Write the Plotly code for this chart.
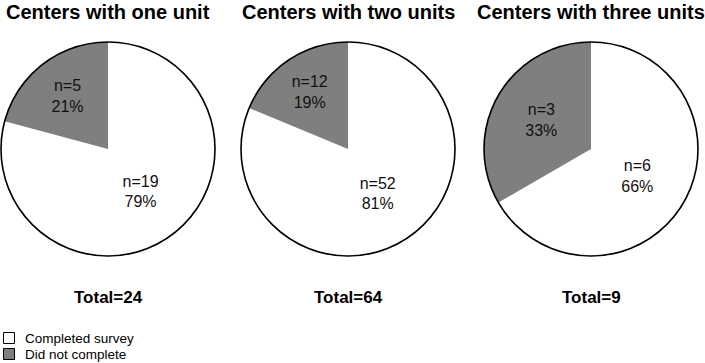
import plotly.graph_objects as go

titles = ["Centers with one unit", "Centers with two units", "Centers with three units"]
completed = [19, 52, 6]
not_completed = [5, 12, 3]
completed_pct = ["79%", "81%", "66%"]
not_completed_pct = ["21%", "19%", "33%"]
totals = [24, 64, 9]
labels = ["Completed survey", "Did not complete"]
colors = ["#ffffff", "#7f7f7f"]

W, H = 705, 363
centers_px = [108, 348, 591]
cy_px = 149
r_px = 107
FONT = "Liberation Sans, Arial, sans-serif"

fig = go.Figure()
for i in range(3):
    cx = centers_px[i]
    xd = [(cx - r_px) / W, (cx + r_px) / W]
    yd = [(H - cy_px - r_px) / H, (H - cy_px + r_px) / H]
    fig.add_trace(go.Pie(
        labels=labels,
        values=[completed[i], not_completed[i]],
        text=[f"n={completed[i]}<br>{completed_pct[i]}", f"n={not_completed[i]}<br>{not_completed_pct[i]}"],
        textinfo="text",
        textposition="inside",
        insidetextorientation="horizontal",
        textfont=dict(family=FONT, size=16, color="#111111"),
        marker=dict(colors=colors, line=dict(width=0)),
        sort=False,
        direction="clockwise",
        rotation=0,
        domain=dict(x=xd, y=yd),
        showlegend=False,
        hoverinfo="label+value",
    ))
    fig.add_trace(go.Pie(
        values=[1],
        labels=[" "],
        textinfo="none",
        marker=dict(colors=["rgba(0,0,0,0)"], line=dict(color="#000000", width=1.6)),
        domain=dict(x=xd, y=yd),
        showlegend=False,
        hoverinfo="skip",
        sort=False,
    ))
    fig.add_annotation(x=cx / W, y=1 - 12 / H, xref="paper", yref="paper",
                       text=f"<b>{titles[i]}</b>", showarrow=False,
                       font=dict(family=FONT, size=20, color="#000000"),
                       xanchor="center", yanchor="middle")
    fig.add_annotation(x=cx / W, y=1 - 297 / H, xref="paper", yref="paper",
                       text=f"<b>Total={totals[i]}</b>", showarrow=False,
                       font=dict(family=FONT, size=17, color="#000000"),
                       xanchor="center", yanchor="middle")

# legend keys drawn as small boxes + text
legend_y_px = [338, 354]
for lab, col, ly in zip(labels, colors, legend_y_px):
    fig.add_shape(type="rect", xref="paper", yref="paper",
                  x0=3.5 / W, x1=14.5 / W, y0=1 - (ly + 5.5) / H, y1=1 - (ly - 5.5) / H,
                  fillcolor=col, line=dict(color="#000000", width=1))
    fig.add_annotation(x=24 / W, y=1 - ly / H, xref="paper", yref="paper",
                       text=lab, showarrow=False,
                       font=dict(family=FONT, size=13.5, color="#000000"),
                       xanchor="left", yanchor="middle", borderpad=0)

fig.update_layout(
    width=W, height=H,
    margin=dict(l=0, r=0, t=0, b=0),
    paper_bgcolor="white", plot_bgcolor="white",
    showlegend=False,
)

fig.write_html("out.html")
